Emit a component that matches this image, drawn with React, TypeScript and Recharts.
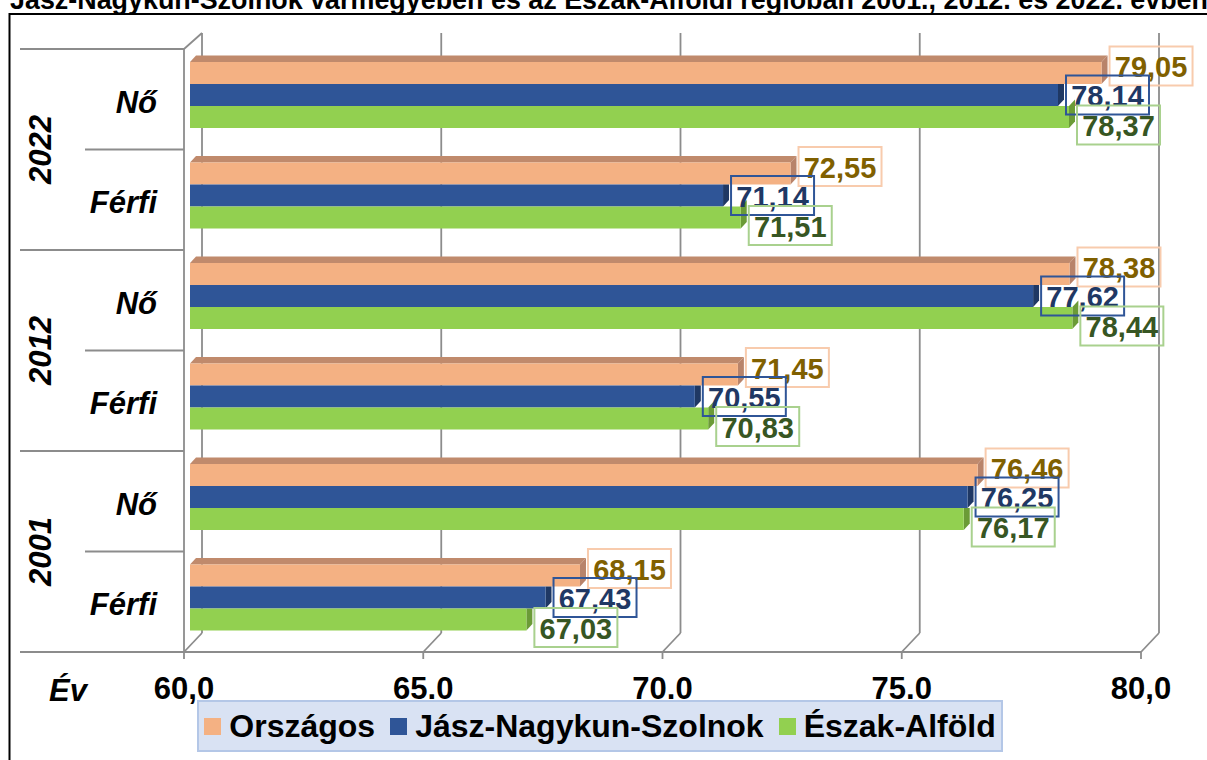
import { Bar, BarChart, CartesianGrid, LabelList, Legend, XAxis, YAxis } from 'recharts'

const W = 1207
const H = 760
const FONT = '"Liberation Sans", Arial, Helvetica, sans-serif'

const title =
  'Jász-Nagykun-Szolnok vármegyében és az Észak-Alföldi régióban 2001., 2012. és 2022. évben'

// rows from top to bottom
const categories = ['Nő', 'Férfi', 'Nő', 'Férfi', 'Nő', 'Férfi']
const years = ['2022', '2022', '2012', '2012', '2001', '2001']

const seriesNames = ['Országos', 'Jász-Nagykun-Szolnok', 'Észak-Alföld']
const orszagos = [79.05, 72.55, 78.38, 71.45, 76.46, 68.15]
const jnsz = [78.14, 71.14, 77.62, 70.55, 76.25, 67.43]
const eszakAlfold = [78.37, 71.51, 78.44, 70.83, 76.17, 67.03]

const xTicks = [60, 65, 70, 75, 80]
const xTickLabels = ['60,0', '65.0', '70.0', '75.0', '80,0']

const rows = categories.map((c, i) => ({
  row: `${years[i]} ${c}`,
  orszagos: orszagos[i],
  jnsz: jnsz[i],
  ea: eszakAlfold[i],
}))

// layout of the plot (bar plane)
const PLOT_TOP = 45
const PLOT_BOTTOM = 648
const PLOT_LEFT = 190
const PLOT_RIGHT = 1147
const X_AXIS_H = 60
const Y_AXIS_W = 180
const BAND = (PLOT_BOTTOM - PLOT_TOP) / categories.length

// fake 3D offsets
const BAR_DX = 6
const BAR_DY = 6.5
const FRONT_DX = -6
const FRONT_DY = 4
const BACK_DX = 12
const BACK_DY = -15
const GRID = '#8C8C8C'

const fmt = (v: number) => v.toFixed(2).replace('.', ',')

function make3DBar(side: string, top: string | null, values: number[], prev: number[] | null) {
  return (props: any) => {
    const { x, y, width, height, fill, index } = props
    if (width == null || height == null) return <g />
    const r = x + width
    const full = !prev || values[index] > prev[index]
    const sidePts = full
      ? `${r},${y} ${r + BAR_DX},${y - BAR_DY} ${r + BAR_DX},${y + height - BAR_DY} ${r},${y + height}`
      : `${r},${y} ${r + BAR_DX},${y} ${r + BAR_DX},${y + height - BAR_DY} ${r},${y + height}`
    return (
      <g>
        {top && (
          <polygon
            points={`${x},${y} ${x + BAR_DX},${y - BAR_DY} ${r + BAR_DX},${y - BAR_DY} ${r},${y}`}
            fill={top}
          />
        )}
        <polygon points={sidePts} fill={side} />
        <rect x={x} y={y} width={width} height={height} fill={fill} />
      </g>
    )
  }
}

function makeLabel(textColor: string, border: string, dy: number) {
  return (props: any) => {
    const vb = props.viewBox ?? props
    const { x, y, width, height } = vb
    const bx = x + width + BAR_DX + 2
    const by = y + height / 2 - 19.5 + dy
    return (
      <g>
        <rect x={bx} y={by} width={83} height={39} fill="none" stroke={border} strokeWidth={2} />
        <text
          x={bx + 41.5}
          y={by + 20.5}
          textAnchor="middle"
          dominantBaseline="central"
          fontFamily={FONT}
          fontWeight="bold"
          fontSize={29}
          fill={textColor}
        >
          {fmt(Number(props.value))}
        </text>
      </g>
    )
  }
}

function WallLine(props: any) {
  const { x1, y1, y2, index } = props
  const fx = x1 + FRONT_DX
  const fb = y2 + FRONT_DY
  const bx = x1 + BACK_DX
  const bb = y2 + BACK_DY
  const bt = y1 - 12
  return (
    <g stroke={GRID} strokeWidth={1.8} fill="none">
      <line x1={bx} y1={bt} x2={bx} y2={bb} />
      <line x1={fx} y1={fb} x2={bx} y2={bb} />
      <line x1={fx} y1={fb} x2={fx} y2={fb + 7} />
      {index === 0 && (
        <>
          <line x1={fx} y1={y1 + FRONT_DY} x2={fx} y2={fb} />
          <line x1={fx} y1={y1 + FRONT_DY} x2={bx} y2={bt} />
          <line x1={fx} y1={fb} x2={fx + PLOT_RIGHT - PLOT_LEFT} y2={fb} />
        </>
      )}
    </g>
  )
}

function RowTick(props: any) {
  const { x, y, index } = props
  const half = BAND / 2
  const fy = y + FRONT_DY
  const wallX = x + FRONT_DX
  return (
    <g>
      <text
        x={x - 33}
        y={fy + 3}
        textAnchor="end"
        dominantBaseline="central"
        fontFamily={FONT}
        fontWeight="bold"
        fontStyle="italic"
        fontSize={31}
        fill="#000"
      >
        {categories[index]}
      </text>
      {index % 2 === 0 && (
        <text
          transform={`translate(${x - 150}, ${fy + half}) rotate(-90)`}
          textAnchor="middle"
          dominantBaseline="central"
          fontFamily={FONT}
          fontWeight="bold"
          fontStyle="italic"
          fontSize={31}
          fill="#000"
        >
          {years[index]}
        </text>
      )}
      {index === 0 && (
        <line x1={x - 170} y1={fy - half} x2={wallX} y2={fy - half} stroke={GRID} strokeWidth={1.8} />
      )}
      <line
        x1={index % 2 === 1 ? x - 170 : x - 105}
        y1={fy + half}
        x2={wallX}
        y2={fy + half}
        stroke={GRID}
        strokeWidth={1.8}
      />
    </g>
  )
}

function ValueTick(props: any) {
  const { x, y, index } = props
  return (
    <text
      x={x + FRONT_DX}
      y={y + 51}
      textAnchor="middle"
      fontFamily={FONT}
      fontWeight="bold"
      fontSize={31}
      fill="#000"
    >
      {xTickLabels[index]}
    </text>
  )
}

function LegendBox({ payload }: any) {
  const items = [...(payload ?? [])].sort(
    (a: any, b: any) => seriesNames.indexOf(a.value) - seriesNames.indexOf(b.value),
  )
  return (
    <div
      style={{
        width: 806,
        height: 52,
        boxSizing: 'border-box',
        background: '#D9E2F3',
        border: '2px solid #B4C7E7',
        display: 'flex',
        alignItems: 'center',
        justifyContent: 'center',
        gap: 15,
        fontFamily: FONT,
        fontWeight: 'bold',
        fontSize: 32,
        color: '#000',
      }}
    >
      {items.map((e: any) => (
        <span key={e.value} style={{ display: 'flex', alignItems: 'center', gap: 8 }}>
          <span style={{ width: 17, height: 17, background: e.color, display: 'inline-block' }} />
          {e.value}
        </span>
      ))}
    </div>
  )
}

export default function App() {
  return (
    <div
      style={{
        position: 'absolute',
        left: 0,
        top: 0,
        width: W,
        height: H,
        overflow: 'hidden',
        background: '#fff',
      }}
    >
      <BarChart
        width={W}
        height={H}
        data={rows}
        layout="vertical"
        barCategoryGap={17}
        barGap={0}
        margin={{
          top: PLOT_TOP,
          right: W - PLOT_RIGHT,
          left: PLOT_LEFT - Y_AXIS_W,
          bottom: H - PLOT_BOTTOM - X_AXIS_H,
        }}
      >
        <CartesianGrid horizontal={false} vertical={(p: any) => <WallLine {...p} />} />
        <XAxis
          type="number"
          domain={[60, 80]}
          ticks={xTicks}
          interval={0}
          height={X_AXIS_H}
          axisLine={false}
          tickLine={false}
          tickSize={0}
          tickMargin={0}
          tick={(p: any) => <ValueTick {...p} />}
        />
        <YAxis
          type="category"
          dataKey="row"
          width={Y_AXIS_W}
          interval={0}
          axisLine={false}
          tickLine={false}
          tickSize={0}
          tickMargin={0}
          tick={(p: any) => <RowTick {...p} />}
        />
        <Legend
          layout="horizontal"
          verticalAlign="middle"
          align="center"
          wrapperStyle={{ left: 197, top: 700, width: 806, height: 52 }}
          content={(p: any) => <LegendBox {...p} />}
        />
        <Bar
          dataKey="orszagos"
          name={seriesNames[0]}
          fill="#F4B183"
          isAnimationActive={false}
          shape={make3DBar('#B8836A', '#C08A6C', orszagos, null)}
        >
          <LabelList dataKey="orszagos" content={makeLabel('#806000', '#F8CBAD', -7)} />
        </Bar>
        <Bar
          dataKey="jnsz"
          name={seriesNames[1]}
          fill="#2F5597"
          isAnimationActive={false}
          shape={make3DBar('#1F3864', null, jnsz, orszagos)}
        >
          <LabelList dataKey="jnsz" content={makeLabel('#1F3864', '#2F5597', 0)} />
        </Bar>
        <Bar
          dataKey="ea"
          name={seriesNames[2]}
          fill="#92D050"
          isAnimationActive={false}
          shape={make3DBar('#6B9B37', null, eszakAlfold, jnsz)}
        >
          <LabelList dataKey="ea" content={makeLabel('#375623', '#A9D18E', 8)} />
        </Bar>
      </BarChart>
      <svg
        width={W}
        height={H}
        style={{ position: 'absolute', left: 0, top: 0, pointerEvents: 'none' }}
      >
        <text
          x={10}
          y={9}
          fontFamily={FONT}
          fontWeight="bold"
          fontSize={27}
          textLength={1198}
          lengthAdjust="spacingAndGlyphs"
          fill="#000"
        >
          {title}
        </text>
        <rect x={9.5} y={14} width={1400} height={900} fill="none" stroke="#000" strokeWidth={2} />
        <text
          x={49}
          y={701}
          fontFamily={FONT}
          fontWeight="bold"
          fontStyle="italic"
          fontSize={31}
          fill="#000"
        >
          Év
        </text>
      </svg>
    </div>
  )
}
